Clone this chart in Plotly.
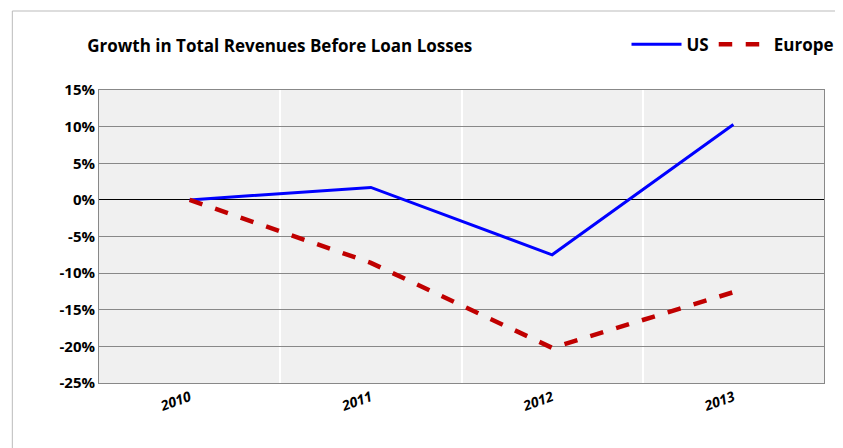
import plotly.graph_objects as go

years = ["2010", "2011", "2012", "2013"]
us = [0.0, 1.7, -7.5, 10.3]
europe = [0.0, -8.6, -20.2, -12.6]
yticks = [15, 10, 5, 0, -5, -10, -15, -20, -25]

fig = go.Figure()
fig.add_trace(go.Scatter(x=list(range(len(years))), y=us, name="<b>US</b>", mode="lines",
                         line=dict(color="#0000ff", width=3)))
fig.add_trace(go.Scatter(x=list(range(len(years))), y=europe, name="<b>Europe</b>", mode="lines",
                         line=dict(color="#c00000", width=4.5, dash="dash")))

fig.update_layout(
    width=843, height=448,
    margin=dict(l=91, r=16, t=82, b=73),
    paper_bgcolor="white", plot_bgcolor="#f0f0f0",
    font=dict(family="Open Sans", size=14, color="black"),
    title=dict(text="<b>Growth in Total Revenues Before Loan Losses</b>",
               x=0.094, xanchor="left", y=0.915, yanchor="middle", font=dict(size=17)),
    legend=dict(orientation="h", x=1.02, xanchor="right", y=1.155, yanchor="middle",
                font=dict(size=17, family="Open Sans"), bgcolor="rgba(0,0,0,0)",
                itemwidth=50),
    showlegend=True,
)
fig.update_xaxes(range=[-0.5, 3.5], tickvals=list(range(len(years))),
                 ticktext=["<b><i>%s</i></b>" % y for y in years],
                 tickangle=-20, showgrid=False, zeroline=False,
                 showline=True, linecolor="#888", mirror=True,
                 minor=dict(tickvals=[0.5, 1.5, 2.5], showgrid=True, gridcolor="white", gridwidth=1.5))
fig.update_yaxes(range=[-25, 15], tickvals=yticks,
                 ticktext=["<b>%d%%</b>" % v for v in yticks],
                 gridcolor="#888", gridwidth=1, zeroline=True, zerolinecolor="black",
                 zerolinewidth=1, showline=True, linecolor="#888", mirror=True,
                 tickfont=dict(size=15))
fig.add_shape(type="rect", xref="paper", yref="paper",
              x0=-88 / 736, x1=1 + 12 / 736, y0=-70 / 293, y1=1 + 79 / 293,
              line=dict(color="#bbbbbb", width=1))
fig.write_html("out.html")
